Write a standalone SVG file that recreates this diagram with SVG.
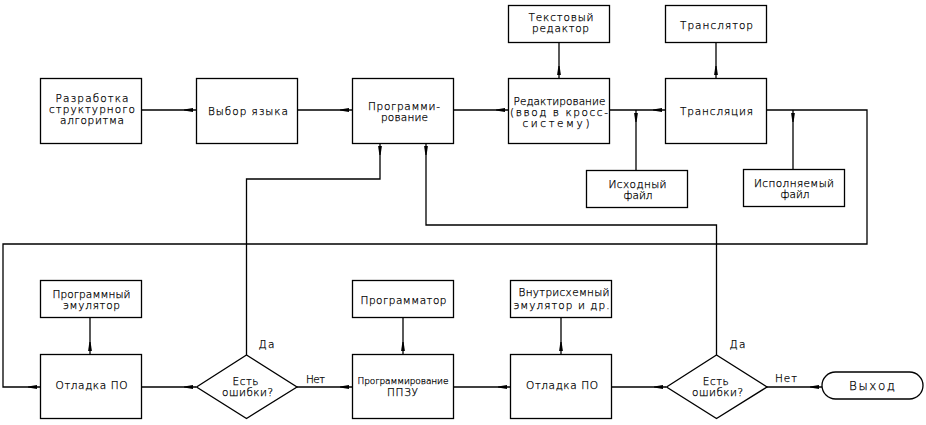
<svg xmlns="http://www.w3.org/2000/svg" width="926" height="425" viewBox="0 0 926 425">
<style>
  .box { fill: #fff; stroke: #000; stroke-width: 1.3; }
  .ln { fill: none; stroke: #000; stroke-width: 1.3; marker-end: url(#ah); }
  text { font-family: "DejaVu Sans", "Liberation Sans", sans-serif; font-weight: 200; font-size: 10.5px; fill: #000; stroke: #000; stroke-width: 0.25; text-anchor: middle; }
  .sm { font-size: 9px; }
</style>
<defs>
  <marker id="ah" markerUnits="userSpaceOnUse" markerWidth="14" markerHeight="6" viewBox="0 0 14 6" refX="14" refY="3" orient="auto">
    <path d="M2,2.4 L11,1.1 L11,4.9 L2,3.6 Z" fill="#000"/>
  </marker>
</defs>
<rect width="926" height="425" fill="#fff"/>

<g id="connectors">
  <line class="ln" x1="141" y1="110" x2="196" y2="110"/>
  <line class="ln" x1="297" y1="110" x2="352" y2="110"/>
  <line class="ln" x1="453" y1="110" x2="508" y2="110"/>
  <line class="ln" x1="609" y1="110" x2="665" y2="110"/>
  <line class="ln" x1="559" y1="42" x2="559" y2="78"/>
  <line class="ln" x1="716" y1="42" x2="716" y2="78"/>
  <line class="ln" x1="636" y1="170" x2="636" y2="110"/>
  <line class="ln" x1="793" y1="169" x2="793" y2="110"/>
  <polyline class="ln" points="766,110 867,110 867,244 3,244 3,387 40,387"/>
  <line class="ln" x1="90" y1="317" x2="90" y2="354"/>
  <line class="ln" x1="141" y1="387" x2="196" y2="387"/>
  <polyline class="ln" points="246.5,355 246.5,179 380,179 380,143"/>
  <line class="ln" x1="297" y1="387" x2="352" y2="387"/>
  <line class="ln" x1="403" y1="317" x2="403" y2="354"/>
  <line class="ln" x1="453" y1="387" x2="510" y2="387"/>
  <line class="ln" x1="561" y1="317" x2="561" y2="354"/>
  <line class="ln" x1="611" y1="387" x2="666" y2="387"/>
  <polyline class="ln" points="716.5,355 716.5,225 426,225 426,143"/>
  <line class="ln" x1="767" y1="387" x2="822" y2="387"/>
  <text x="266.5" y="347.5" textLength="16" lengthAdjust="spacing">Да</text>
  <text x="315.5" y="382.5" textLength="19" lengthAdjust="spacing">Нет</text>
  <text x="737.5" y="347.5" textLength="16" lengthAdjust="spacing">Да</text>
  <text x="786" y="382" textLength="22" lengthAdjust="spacing">Нет</text>
</g>

<g id="n_razrabotka">
  <rect class="box" x="40.5" y="78.5" width="101" height="65"/>
  <text x="92" y="101.5" textLength="73" lengthAdjust="spacing">Разработка</text>
  <text x="92" y="112.5" textLength="86" lengthAdjust="spacing">структурного</text>
  <text x="92" y="123.5" textLength="64" lengthAdjust="spacing">алгоритма</text>
</g>

<g id="n_vybor">
  <rect class="box" x="196.5" y="78.5" width="101" height="65"/>
  <text x="248" y="115" textLength="80" lengthAdjust="spacing">Выбор языка</text>
</g>

<g id="n_programmirovanie">
  <rect class="box" x="352.5" y="78.5" width="101" height="65"/>
  <text x="404" y="110" textLength="72" lengthAdjust="spacing">Программи-</text>
  <text x="404.5" y="121" textLength="47" lengthAdjust="spacing">рование</text>
</g>

<g id="n_tekst_redaktor">
  <rect class="box" x="508.5" y="5.5" width="101" height="37"/>
  <text x="561" y="21" textLength="65" lengthAdjust="spacing">Текстовый</text>
  <text x="560.5" y="32" textLength="57" lengthAdjust="spacing">редактор</text>
</g>

<g id="n_redaktirovanie">
  <rect class="box" x="508.5" y="78.5" width="101" height="65"/>
  <text x="559.5" y="105" textLength="92" lengthAdjust="spacing">Редактирование</text>
  <text x="559" y="116" textLength="98" lengthAdjust="spacing">(ввод в кросс-</text>
  <text x="556" y="127" textLength="67" lengthAdjust="spacing">систему)</text>
</g>

<g id="n_translator">
  <rect class="box" x="665.5" y="5.5" width="101" height="37"/>
  <text x="716.5" y="29" textLength="73" lengthAdjust="spacing">Транслятор</text>
</g>

<g id="n_translyaciya">
  <rect class="box" x="665.5" y="78.5" width="101" height="65"/>
  <text x="716.5" y="115" textLength="73" lengthAdjust="spacing">Трансляция</text>
</g>

<g id="n_iskhodny">
  <rect class="box" x="586.5" y="170.5" width="101" height="37"/>
  <text x="637.5" y="187.5" textLength="58" lengthAdjust="spacing">Исходный</text>
  <text x="638" y="198.5" textLength="29" lengthAdjust="spacing">файл</text>
</g>

<g id="n_ispolnyaemy">
  <rect class="box" x="743.5" y="169.5" width="101" height="37"/>
  <text x="794" y="187" textLength="80" lengthAdjust="spacing">Исполняемый</text>
  <text x="795" y="198" textLength="29" lengthAdjust="spacing">файл</text>
</g>

<g id="n_prog_emulator">
  <rect class="box" x="40.5" y="280.5" width="101" height="37"/>
  <text x="91.5" y="297.5" textLength="78" lengthAdjust="spacing">Программный</text>
  <text x="91.5" y="308.5" textLength="57" lengthAdjust="spacing">эмулятор</text>
</g>

<g id="n_otladka1">
  <rect class="box" x="40.5" y="354.5" width="101" height="64"/>
  <text x="91.5" y="389" textLength="72" lengthAdjust="spacing">Отладка ПО</text>
</g>

<g id="n_oshibki1">
  <polygon class="box" points="196.5,387 246.5,355 297,387 246.5,418.5"/>
  <text x="245.5" y="385" textLength="26" lengthAdjust="spacing">Есть</text>
  <text x="247.5" y="396" textLength="51" lengthAdjust="spacing">ошибки?</text>
</g>

<g id="n_programmator">
  <rect class="box" x="352.5" y="280.5" width="101" height="37"/>
  <text x="403.5" y="303.5" textLength="86" lengthAdjust="spacing">Программатор</text>
</g>

<g id="n_ppzu">
  <rect class="box" x="352.5" y="354.5" width="101" height="64"/>
  <text class="sm" x="403" y="384" textLength="91" lengthAdjust="spacing">Программирование</text>
  <text x="402.5" y="396" textLength="31" lengthAdjust="spacing">ППЗУ</text>
</g>

<g id="n_vnutrisk">
  <rect class="box" x="510.5" y="280.5" width="101" height="37"/>
  <text x="564" y="296" textLength="91" lengthAdjust="spacing">Внутрисхемный</text>
  <text x="561.5" y="309" textLength="96" lengthAdjust="spacing">эмулятор и др.</text>
</g>

<g id="n_otladka2">
  <rect class="box" x="510.5" y="354.5" width="101" height="64"/>
  <text x="562" y="389" textLength="72" lengthAdjust="spacing">Отладка ПО</text>
</g>

<g id="n_oshibki2">
  <polygon class="box" points="666.5,387 716.5,355 767,387 716.5,418.5"/>
  <text x="715.8" y="385" textLength="26" lengthAdjust="spacing">Есть</text>
  <text x="717.5" y="396" textLength="51" lengthAdjust="spacing">ошибки?</text>
</g>

<g id="n_vykhod">
  <rect class="box" x="822" y="372" width="101" height="27" rx="13.5" ry="13.5"/>
  <text x="872" y="390" textLength="46" lengthAdjust="spacing" style="font-size:12px">Выход</text>
</g>
</svg>
